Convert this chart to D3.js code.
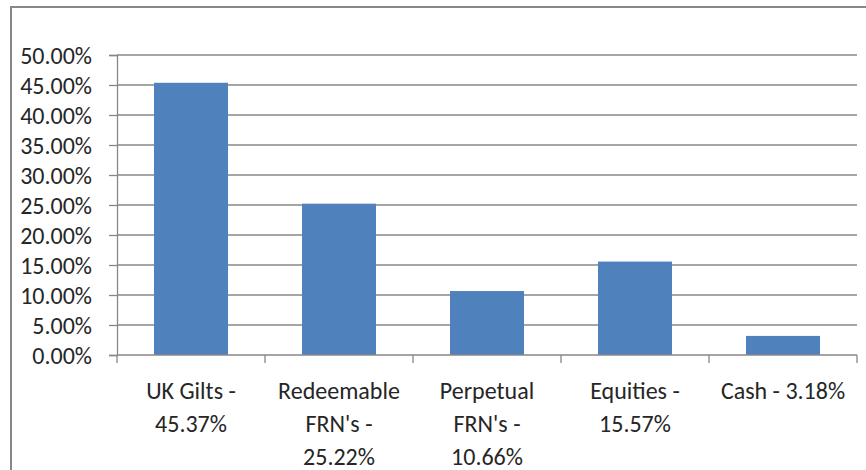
<!DOCTYPE html>
<html>
<head>
<meta charset="utf-8">
<script src="https://cdn.jsdelivr.net/npm/d3@7"></script>
<style>
  body { margin: 0; background: #fff; }
  text { font-family: Carlito, Calibri, "Liberation Sans", sans-serif; fill: #262626; }
</style>
</head>
<body>
<svg width="866" height="470"></svg>
<script>
// Data
var categories = ["UK Gilts - 45.37%", "Redeemable FRN's - 25.22%", "Perpetual FRN's - 10.66%", "Equities - 15.57%", "Cash - 3.18%"];
var values = [0.4537, 0.2522, 0.1066, 0.1557, 0.0318];
var yTicks = [0, 0.05, 0.10, 0.15, 0.20, 0.25, 0.30, 0.35, 0.40, 0.45, 0.50];

var svg = d3.select("svg"),
    margin = {top: 55, right: 9, bottom: 115, left: 117},
    width = 866 - margin.left - margin.right,
    height = 470 - margin.top - margin.bottom,
    g = svg.append("g")
      .attr("transform", "translate(" + margin.left + "," + margin.top + ")");

// outer chart border (only left and top are visible in the crop)
svg.append("rect")
  .attr("x", 11).attr("y", 7)
  .attr("width", 900).attr("height", 500)
  .attr("fill", "none")
  .attr("stroke", "#878787")
  .attr("stroke-width", 2);

var x = d3.scaleBand().domain(categories).range([0, width]).paddingInner(0.5).paddingOuter(0.25),
    y = d3.scaleLinear().domain([0, 0.5]).range([height, 0]);

var grey = "#878787";

// gridlines
g.selectAll(".grid")
  .data(yTicks.slice(1))
  .enter().append("line")
    .attr("class", "grid")
    .attr("x1", 0).attr("x2", width)
    .attr("y1", function(d) { return y(d); })
    .attr("y2", function(d) { return y(d); })
    .attr("stroke", grey)
    .attr("stroke-width", 1.3);

// bars
g.selectAll(".bar")
  .data(values)
  .enter().append("rect")
    .attr("class", "bar")
    .attr("x", function(d, i) { return x(categories[i]); })
    .attr("y", function(d) { return y(d); })
    .attr("width", x.bandwidth())
    .attr("height", function(d) { return height - y(d); })
    .attr("fill", "#4f81bd");

// Y axis
var yAxis = g.append("g")
  .call(d3.axisLeft(y).tickValues(yTicks).tickFormat(d3.format(".2%")).tickSize(8).tickPadding(17));
yAxis.select(".domain").attr("stroke", grey).attr("stroke-width", 1.3);
yAxis.selectAll(".tick line").attr("stroke", grey).attr("stroke-width", 1.3);
yAxis.selectAll("text").style("font-size", "24px").attr("dy", "0.34em");

// X axis: ticks on the category boundaries
var step = x.step();
g.append("line")
  .attr("x1", 0).attr("x2", width)
  .attr("y1", height).attr("y2", height)
  .attr("stroke", grey).attr("stroke-width", 1.3);
g.selectAll(".xtick")
  .data(d3.range(categories.length + 1))
  .enter().append("line")
    .attr("class", "xtick")
    .attr("x1", function(d) { return d * step; })
    .attr("x2", function(d) { return d * step; })
    .attr("y1", height).attr("y2", height + 8)
    .attr("stroke", grey).attr("stroke-width", 1.3);

// category labels, wrapped to fit the band
var labels = g.selectAll(".xlabel")
  .data(categories)
  .enter().append("text")
    .attr("class", "xlabel")
    .attr("text-anchor", "middle")
    .attr("x", function(d) { return x(d) + x.bandwidth() / 2; })
    .attr("y", height + 44)
    .style("font-size", "24px")
    .text(function(d) { return d; });

labels.each(function(d) {
  var t = d3.select(this),
      words = d.split(/\s+/),
      lines = [], line = [];
  t.text(null);
  var tmp = t.append("tspan");
  words.forEach(function(w) {
    line.push(w);
    tmp.text(line.join(" "));
    if (tmp.node().getComputedTextLength() > 134 && line.length > 1) {
      line.pop();
      lines.push(line.join(" "));
      line = [w];
    }
  });
  lines.push(line.join(" "));
  tmp.remove();
  lines.forEach(function(l, i) {
    t.append("tspan")
      .attr("x", t.attr("x"))
      .attr("dy", i === 0 ? 0 : 33)
      .text(l);
  });
});
</script>
</body>
</html>
